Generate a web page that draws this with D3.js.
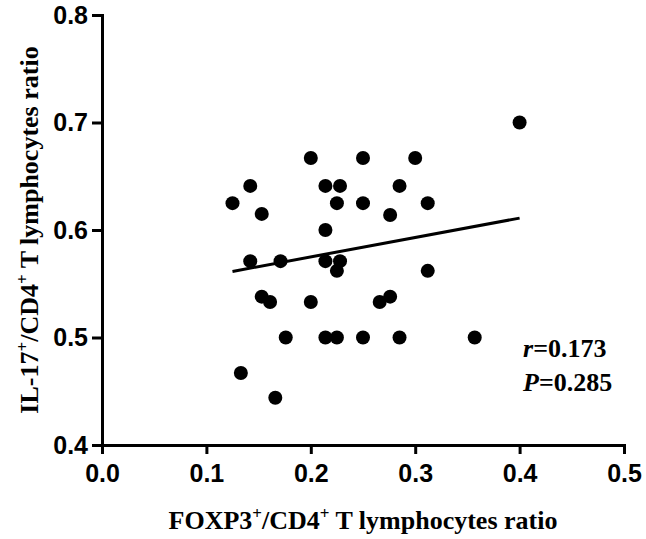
<!DOCTYPE html>
<html>
<head>
<meta charset="utf-8">
<script src="https://cdn.jsdelivr.net/npm/d3@7"></script>
<style>
	body { margin: 0; background: #fff; }
	svg { display: block; }
</style>
</head>
<body>
<svg id="chart"></svg>
<script>
/*=================
=== Data
=================*/
// FOXP3+/CD4+ ratio (x) and IL-17+/CD4+ ratio (y)
var foxp3 = [0.200, 0.250, 0.300, 0.400, 0.142, 0.214, 0.228, 0.285, 0.125, 0.225, 0.250, 0.312,
	0.153, 0.276, 0.214, 0.142, 0.171, 0.214, 0.228, 0.225, 0.312, 0.153, 0.161, 0.200, 0.266,
	0.276, 0.176, 0.214, 0.225, 0.250, 0.285, 0.357, 0.133, 0.166];
var il17 = [0.667, 0.667, 0.667, 0.700, 0.641, 0.641, 0.641, 0.641, 0.625, 0.625, 0.625, 0.625,
	0.615, 0.614, 0.600, 0.571, 0.571, 0.571, 0.571, 0.562, 0.562, 0.538, 0.533, 0.533, 0.533,
	0.538, 0.500, 0.500, 0.500, 0.500, 0.500, 0.500, 0.467, 0.444];

// regression line as drawn in the figure
var fitSlope = 0.1804;
var fitIntercept = 0.5389;

var xTicks = [0.0, 0.1, 0.2, 0.3, 0.4, 0.5];
var yTicks = [0.4, 0.5, 0.6, 0.7, 0.8];
var statLines = [{ sym: 'r', val: '0.173' }, { sym: 'P', val: '0.285' }];

/*=================
=== Setup
=================*/
var width = 646, height = 539;
var svg = d3.select('#chart').attr('width', width).attr('height', height);

var x = d3.scaleLinear().domain([0, 0.5]).range([102, 624]);
var y = d3.scaleLinear().domain([0.4, 0.8]).range([445, 15]);

var points = foxp3.map((d, i) => ({ x: d, y: il17[i] }));

// Axes
var xAxis = svg.append('g')
	.attr('transform', `translate(0,${y(0.4)})`)
	.call(d3.axisBottom(x).tickValues(xTicks).tickFormat(d3.format('.1f'))
		.tickSize(9).tickSizeOuter(0).tickPadding(10));

var yAxis = svg.append('g')
	.attr('transform', `translate(${x(0)},0)`)
	.call(d3.axisLeft(y).tickValues(yTicks).tickFormat(d3.format('.1f'))
		.tickSize(10).tickSizeOuter(0).tickPadding(4));

[xAxis, yAxis].forEach(ax => {
	ax.select('.domain').attr('stroke', '#000').attr('stroke-width', 3).attr('stroke-linecap', 'square');
	ax.selectAll('.tick line').attr('stroke', '#000').attr('stroke-width', 3);
	ax.selectAll('.tick text')
		.attr('fill', '#000')
		.style('font-family', '"Liberation Sans", Arial, sans-serif')
		.style('font-weight', 'bold')
		.style('font-size', '25px');
});

// Regression line
var xExt = d3.extent(foxp3);
svg.append('line')
	.attr('x1', x(xExt[0]))
	.attr('y1', y(fitIntercept + fitSlope * xExt[0]))
	.attr('x2', x(xExt[1]))
	.attr('y2', y(fitIntercept + fitSlope * xExt[1]))
	.attr('stroke', '#000')
	.attr('stroke-width', 3);

// Points
svg.append('g')
	.selectAll('circle')
	.data(points)
	.enter()
	.append('circle')
	.attr('cx', d => x(d.x))
	.attr('cy', d => y(d.y))
	.attr('r', 7)
	.attr('fill', '#000');

/*=================
=== Titles
=================*/
var serif = '"Liberation Serif", "Times New Roman", serif';

// superscripts raised with dy, next run brought back down
function titleText(sel, parts) {
	var shift = 0;
	parts.forEach(p => {
		var ts = sel.append('tspan').text(p.t);
		if (p.sup) {
			ts.attr('dy', -10).style('font-size', '17px');
			shift = 10;
		} else if (shift) {
			ts.attr('dy', shift);
			shift = 0;
		}
	});
}

var xTitle = svg.append('text')
	.attr('x', (x(0) + x(0.5)) / 2)
	.attr('y', 529)
	.attr('text-anchor', 'middle')
	.style('font-family', serif)
	.style('font-weight', 'bold')
	.style('font-size', '26px');
titleText(xTitle, [{ t: 'FOXP3' }, { t: '+', sup: true }, { t: '/CD4' }, { t: '+', sup: true }, { t: ' T lymphocytes ratio' }]);

var yTitle = svg.append('text')
	.attr('transform', `translate(38,${(y(0.4) + y(0.8)) / 2}) rotate(-90)`)
	.attr('text-anchor', 'middle')
	.style('font-family', serif)
	.style('font-weight', 'bold')
	.style('font-size', '26px');
titleText(yTitle, [{ t: 'IL-17' }, { t: '+', sup: true }, { t: '/CD4' }, { t: '+', sup: true }, { t: ' T lymphocytes ratio' }]);

// Stats annotation
statLines.forEach((s, i) => {
	var t = svg.append('text')
		.attr('x', 523)
		.attr('y', 357 + i * 34)
		.style('font-family', serif)
		.style('font-weight', 'bold')
		.style('font-size', '26px');
	t.append('tspan').style('font-style', 'italic').text(s.sym);
	t.append('tspan').text('=' + s.val);
});
</script>
</body>
</html>
